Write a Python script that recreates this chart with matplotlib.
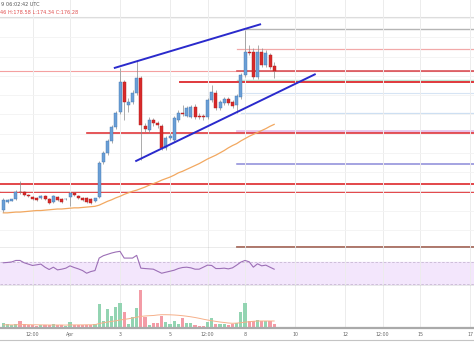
import numpy as np
import pandas as pd
import matplotlib
matplotlib.use('Agg')
import matplotlib.pyplot as plt
import matplotlib.dates as mdates
from matplotlib.lines import Line2D

# ETH/USD 4h candles, Mar 29 08:00 -> Apr 9 04:00 (2019)
start = '2019-03-29 08:00'
opens = [140.1, 142.2, 142.6, 143.0, 144.8, 144.8, 144.0, 143.5, 143.3, 143.3,
         143.8, 143.0, 142.2, 143.5, 143.0, 142.9, 143.5, 144.6, 143.8, 143.3,
         143.3, 143.0, 142.5, 143.5, 152.6, 155.0, 158.1, 161.7, 165.6, 173.4,
         167.4, 168.2, 170.6, 174.5, 162.0, 160.9, 163.5, 162.8, 162.0, 156.3,
         158.9, 158.3, 163.5, 165.4, 164.6, 164.3, 166.9, 164.6, 164.6, 164.3,
         168.7, 170.6, 166.7, 168.0, 169.0, 168.2, 167.4, 169.5, 175.2, 181.2,
         181.2, 174.7, 181.2, 177.8, 180.4, 177.46]
highs = [143.3, 143.0, 143.0, 145.3, 147.7, 145.1, 144.3, 143.8, 143.5, 144.0,
         144.0, 143.3, 144.0, 143.8, 143.3, 143.3, 144.8, 144.8, 144.0, 143.5,
         143.5, 143.3, 143.3, 152.9, 155.5, 158.6, 162.2, 165.9, 177.1, 173.9,
         169.3, 171.3, 179.1, 175.0, 162.8, 164.3, 164.1, 163.3, 162.5, 159.4,
         160.2, 164.6, 166.1, 167.4, 167.2, 167.4, 167.7, 165.4, 165.1, 169.3,
         172.6, 171.3, 168.7, 169.5, 169.5, 168.7, 170.3, 175.8, 186.9, 183.0,
         182.3, 183.0, 182.3, 181.7, 181.0, 178.58]
lows = [139.6, 142.0, 142.5, 142.7, 144.3, 143.8, 143.5, 142.7, 142.5, 143.0,
        142.7, 141.7, 142.0, 142.5, 142.0, 142.7, 141.2, 143.8, 143.0, 142.5,
        142.0, 141.7, 142.2, 143.3, 152.1, 154.4, 157.6, 161.2, 165.1, 163.5,
        165.6, 167.7, 170.0, 153.1, 160.4, 160.2, 162.0, 161.5, 155.7, 155.7,
        158.3, 157.8, 163.0, 164.6, 164.3, 164.1, 163.8, 163.8, 163.5, 163.8,
        168.2, 166.1, 166.1, 167.4, 167.4, 166.7, 165.4, 169.0, 174.7, 180.4,
        174.2, 174.2, 177.3, 177.3, 176.8, 174.34]
closes = [142.7, 142.7, 142.9, 144.8, 144.7, 144.0, 143.8, 143.0, 142.7, 143.8,
          143.0, 142.0, 143.8, 142.7, 142.2, 143.0, 144.6, 144.0, 143.3, 142.7,
          142.2, 142.0, 143.3, 152.4, 155.0, 158.1, 161.7, 165.4, 173.4, 168.2,
          168.2, 170.6, 174.5, 162.2, 161.2, 163.5, 162.8, 162.2, 156.3, 158.9,
          159.4, 164.1, 165.4, 165.0, 166.7, 166.9, 164.3, 164.3, 164.3, 168.7,
          170.8, 166.7, 168.2, 169.0, 168.0, 167.2, 169.8, 175.2, 181.2, 181.0,
          174.7, 181.2, 177.8, 181.0, 177.3, 176.28]
# orange moving average on price
ma_price = [139.4, 139.4, 139.5, 139.6, 139.6, 139.7, 139.8, 139.9, 140.0, 140.0,
            140.1, 140.2, 140.3, 140.4, 140.4, 140.5, 140.6, 140.7, 140.7, 140.8,
            140.9, 141.0, 141.1, 141.4, 141.9, 142.4, 142.8, 143.3, 143.7, 144.2,
            144.6, 145.0, 145.3, 145.7, 146.1, 146.6, 147.0, 147.4, 147.9, 148.3,
            148.7, 149.2, 149.8, 150.2, 150.7, 151.2, 151.7, 152.2, 152.8, 153.4,
            153.9, 154.4, 155.0, 155.6, 156.3, 156.9, 157.4, 158.1, 158.7, 159.3,
            159.8, 160.3, 160.8, 161.3, 161.9, 162.4]
rsi = [68.8, 69.4, 70.3, 73.1, 73.1, 68.8, 66.3, 63.8, 65.0, 66.3,
       60.6, 56.3, 60.6, 55.6, 56.9, 58.8, 63.1, 60.0, 57.5, 54.4,
       49.4, 52.5, 54.4, 77.5, 81.9, 84.4, 86.9, 88.8, 90.0, 77.5,
       77.5, 77.5, 82.5, 58.8, 58.1, 57.5, 56.9, 53.1, 49.4, 51.3,
       53.1, 55.0, 58.1, 60.0, 60.6, 59.4, 56.9, 56.9, 60.6, 64.4,
       63.8, 58.1, 58.1, 58.8, 57.5, 59.4, 64.4, 70.0, 73.1, 70.6,
       60.6, 66.9, 63.1, 64.4, 60.6, 56.9]
volume = [4.7, 4.0, 3.3, 4.0, 7.3, 4.0, 2.7, 2.7, 2.3, 3.0,
          2.7, 3.3, 4.0, 2.7, 3.0, 2.3, 6.0, 3.3, 3.3, 3.0,
          3.3, 3.0, 4.0, 24.0, 7.3, 19.0, 12.3, 20.7, 24.7, 15.7,
          4.0, 10.7, 20.0, 38.3, 11.3, 3.3, 4.7, 4.7, 12.0, 5.7,
          4.0, 6.7, 4.0, 10.0, 4.7, 4.7, 3.3, 2.3, 2.3, 5.7,
          10.0, 4.0, 4.0, 4.0, 3.3, 4.0, 4.7, 15.7, 24.7, 6.7,
          6.7, 8.3, 7.3, 7.3, 7.3, 4.0]
vol_ma = [3.2, 3.2, 3.1, 3.2, 3.4, 3.4, 3.3, 3.2, 3.2, 3.1,
          3.1, 3.0, 3.0, 3.0, 3.0, 2.9, 3.1, 3.1, 3.1, 3.1,
          3.2, 3.2, 3.3, 4.5, 5.2, 6.0, 6.6, 7.2, 8.0, 8.6,
          9.2, 10.0, 10.8, 11.6, 12.0, 12.3, 12.5, 13.0, 13.3, 13.3,
          13.2, 13.0, 12.7, 12.3, 11.8, 11.2, 10.5, 9.7, 8.8, 8.0,
          7.3, 6.6, 6.0, 5.5, 5.0, 4.7, 4.9, 5.3, 5.8, 6.3,
          6.7, 7.0, 7.0, 7.0, 7.0, 7.0]

# horizontal levels drawn on the chart: price, start time
level_prices = [190.3, 187.2, 182.0, 176.4, 176.4, 173.9, 173.3, 170.6, 165.4,
                160.6, 160.2, 152.1, 146.9, 144.9, 130.6]
level_starts = ['2019-03-29 00:00', '2019-04-07 22:00', '2019-04-07 16:00',
                '2019-03-29 00:00', '2019-04-07 16:00', '2019-04-07 16:00',
                '2019-04-05 10:00', '2019-04-07 20:00', '2019-04-07 20:00',
                '2019-04-07 16:00', '2019-04-01 16:00', '2019-04-07 16:00',
                '2019-03-29 00:00', '2019-03-29 00:00', '2019-04-07 16:00']
level_colors = ['#dddddd', '#b5b5b5', '#f2a9a9', '#f4a0a0', '#d9545a', '#b9e6d2',
                '#e0383c', '#d6e4f4', '#cddff2', '#e6c4ea', '#e0383c', '#8c8ad8',
                '#e0383c', '#e0383c', '#a96a5c']
level_widths = [0.8, 1.0, 0.9, 0.8, 1.2, 1.0, 1.4, 0.8, 0.9, 2.0, 1.2, 1.1, 1.3, 1.3, 1.3]

# channel lines (time, price)
upper_t = ['2019-04-02 19:00', '2019-04-08 14:30']
upper_p = [177.1, 188.4]
lower_t = ['2019-04-03 15:30', '2019-04-10 19:00']
lower_p = [152.9, 175.4]

tick_times = ['2019-03-30 12:00', '2019-04-01 00:00', '2019-04-03 00:00',
              '2019-04-05 00:00', '2019-04-06 12:00', '2019-04-08 00:00',
              '2019-04-10 00:00', '2019-04-12 00:00', '2019-04-13 12:00',
              '2019-04-15 00:00', '2019-04-17 00:00']
tick_labels = ['12:00', 'Apr', '3', '5', '12:00', '8', '10', '12', '12:00', '15', '17']

times = pd.date_range(start, periods=len(opens), freq='4h')
x = mdates.date2num(times)
o = np.array(opens); c = np.array(closes)
up = c >= o

x0 = mdates.date2num(pd.Timestamp('2019-04-01') - pd.Timedelta(days=2.8))
x1 = mdates.date2num(pd.Timestamp('2019-04-01') + pd.Timedelta(days=16.16))
ticks = mdates.date2num(pd.to_datetime(tick_times))

W, H = 474, 355
fig = plt.figure(figsize=(W / 100, H / 100), dpi=100)
fig.patch.set_facecolor('white')


def box(top, bottom):
    return [0, 1 - bottom / H, 1, (bottom - top) / H]


ax = fig.add_axes(box(0, 248))
ax_rsi = fig.add_axes(box(248, 286), sharex=ax)
ax_vol = fig.add_axes(box(286, 328), sharex=ax)

for a in (ax, ax_rsi, ax_vol):
    a.set_xlim(x0, x1)
    a.set_xticks(ticks)
    a.grid(axis='x', color='#ececec', lw=0.7)
    a.tick_params(length=0, labelleft=False, labelbottom=False)
    for s in ('top', 'left', 'right'):
        a.spines[s].set_visible(False)
    a.spines['bottom'].set_color('#9a9a9a')
    a.spines['bottom'].set_linewidth(1.0)
    a.set_yticks([])

# main price panel
ax.set_ylim(130.26, 194.74)
ax.set_yticks(np.arange(135, 195, 5))
ax.grid(axis='y', color='#f2f2f2', lw=0.6)
ax.tick_params(labelleft=False)

for p, s, col, lw in zip(level_prices, level_starts, level_colors, level_widths):
    xs = mdates.date2num(pd.Timestamp(s))
    ax.plot([max(xs, x0), x1], [p, p], color=col, lw=lw, zorder=1)

ax.plot(x, ma_price, color='#f2a860', lw=0.9, zorder=2)

ax.vlines(x, lows, highs, color='#8a8a8a', lw=0.5, zorder=3)
body_col = np.where(up, '#6b9fd6', '#d82a2a')
edge_col = np.where(up, '#3f74b0', '#b01c1c')
ax.bar(x, c - o, bottom=o, width=0.12, color=body_col, edgecolor=edge_col,
       linewidth=0.3, zorder=4)

ax.plot(mdates.date2num(pd.to_datetime(upper_t)), upper_p, color='#2a2acc', lw=1.4, zorder=5)
ax.plot(mdates.date2num(pd.to_datetime(lower_t)), lower_p, color='#2a2acc', lw=1.4, zorder=5)

fig.text(0.002, 1 - 5 / H, '9 06:02:42 UTC', fontsize=3.6, color='#555555', va='center')
fig.text(0.0, 1 - 12 / H, '46 H:178.58 L:174.34 C:176.28', fontsize=3.6,
         color='#e05050', va='center')

# RSI panel
ax_rsi.set_ylim(25.7, 96.2)
ax_rsi.axhspan(30, 70, color='#f3e6fc', zorder=0)
ax_rsi.axhline(70, color='#c8b8d4', lw=0.6, ls=(0, (3, 2)))
ax_rsi.axhline(30, color='#c8b8d4', lw=0.6, ls=(0, (3, 2)))
ax_rsi.plot(x, rsi, color='#9c6fb6', lw=0.8)

# volume panel
ax_vol.set_ylim(0, 42)
vol_col = np.where(up, '#93d4b2', '#f39ca6')
ax_vol.bar(x, volume, width=0.13, color=vol_col, zorder=2)
ax_vol.plot(x, vol_ma, color='#f6b08a', lw=0.7, zorder=3)
ax_vol.spines['bottom'].set_linewidth(1.6)
ax_vol.spines['bottom'].set_color('#aaaaaa')
ax_vol.tick_params(labelbottom=True, labelsize=3.4, labelcolor='#666666', pad=3)
ax_vol.set_xticklabels(tick_labels)

fig.add_artist(Line2D([0, 1], [1 - 339.5 / H] * 2, color='#c4c4c4', lw=0.8))

fig.savefig('out.png', dpi=100)
